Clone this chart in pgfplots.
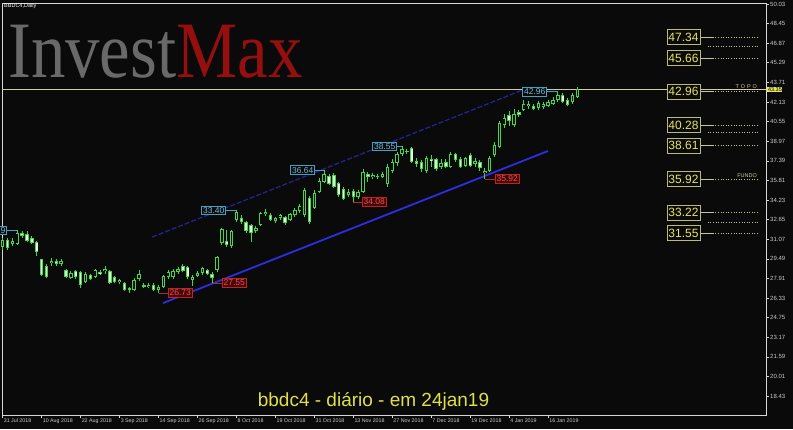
\documentclass[border=0pt]{standalone}
\usepackage{fontspec}
\setmainfont{Liberation Sans}
\newfontfamily\logofont{Liberation Serif}
\usepackage{pgfplots}
\pgfplotsset{compat=1.18}
\usepackage{pgfplotstable}

\definecolor{bg}{RGB}{10,10,10}
\definecolor{candle}{RGB}{70,215,70}
\definecolor{bearfill}{RGB}{225,245,225}
\definecolor{frame}{RGB}{215,215,215}
\definecolor{axtxt}{RGB}{205,205,205}
\definecolor{lvl}{RGB}{230,230,95}
\definecolor{lvlbox}{RGB}{185,185,120}
\definecolor{dots}{RGB}{195,195,165}
\definecolor{topo}{RGB}{205,205,160}
\definecolor{hicol}{RGB}{110,190,220}
\definecolor{hibox}{RGB}{70,160,195}
\definecolor{locol}{RGB}{235,80,80}
\definecolor{lobox}{RGB}{190,35,35}
\definecolor{lofill}{RGB}{70,8,8}
\definecolor{chanlo}{RGB}{45,45,225}
\definecolor{chanhi}{RGB}{35,35,140}
\definecolor{titlecol}{RGB}{225,225,70}
\definecolor{logogray}{RGB}{105,105,105}
\definecolor{logored}{RGB}{150,15,15}

\tikzset{
  hi/.style={draw=hibox, text=hicol, fill=bg, line width=0.7pt, inner sep=1.3pt,
    font=\fontsize{8.5}{9}\selectfont},
  lo/.style={draw=lobox, text=locol, fill=lofill, line width=0.7pt, inner sep=1.3pt,
    font=\fontsize{8.5}{9}\selectfont},
  lvlnode/.style={draw=lvlbox, text=lvl, fill=bg, line width=0.8pt, inner sep=0pt,
    minimum width=33pt, minimum height=15pt, font=\fontsize{12}{12}\selectfont},
}

% BBDC4 daily, bar index 0 = 31 Jul 2018 ... 118 = 24 Jan 2019
\pgfplotstableread{
i o h l c
0 30.45 31.20 30.20 31.00
1 31.00 31.20 30.20 30.40
2 30.70 31.20 30.50 30.95
3 30.70 31.79 30.60 31.55
4 31.60 31.70 31.20 31.30
5 31.50 31.70 30.85 30.95
6 31.20 31.35 30.70 30.80
7 30.85 30.95 29.70 30.00
8 29.45 29.50 28.10 28.20
9 28.95 29.10 27.95 28.05
10 29.15 29.55 28.90 29.35
11 29.30 29.45 28.95 29.05
12 29.05 29.45 28.90 29.30
13 28.55 28.70 27.95 28.05
14 27.95 28.50 27.85 28.35
15 28.50 28.60 27.90 28.00
16 28.40 28.50 27.15 27.40
17 27.60 28.45 27.50 28.30
18 28.20 28.30 27.80 27.90
19 28.00 28.70 27.95 28.55
20 28.45 28.60 28.15 28.25
21 28.50 28.90 28.30 28.70
22 28.50 28.60 27.45 27.55
23 28.00 28.10 27.50 27.60
24 27.60 27.90 27.45 27.80
25 27.50 27.60 26.90 27.00
26 27.10 27.25 26.75 26.95
27 27.00 27.95 26.90 27.80
28 27.85 28.55 27.70 28.30
29 27.35 27.50 27.10 27.20
30 27.20 27.55 27.10 27.40
31 27.35 27.50 26.90 27.00
32 27.00 27.35 26.73 27.25
33 27.20 28.20 27.10 28.10
34 28.00 28.60 27.90 28.45
35 28.00 28.65 27.90 28.50
36 28.40 28.80 28.30 28.70
37 28.90 29.05 28.40 28.50
38 28.80 28.90 27.90 28.00
39 27.75 28.15 27.30 28.05
40 28.10 28.50 28.00 28.35
41 28.35 28.85 28.20 28.75
42 28.60 28.70 28.20 28.30
43 28.30 28.40 27.55 27.95
44 28.60 29.75 28.40 29.60
45 30.80 32.00 30.60 31.90
46 30.95 31.80 30.45 30.60
47 30.50 31.80 30.40 31.70
48 32.60 33.40 32.45 33.25
49 32.80 33.00 32.30 32.45
50 32.45 32.55 31.60 31.70
51 32.20 32.30 30.85 31.55
52 31.70 32.10 31.60 32.00
53 32.20 33.25 32.10 33.15
54 33.10 33.50 32.95 33.30
55 33.00 33.15 32.50 32.60
56 32.50 32.90 32.40 32.75
57 32.80 33.10 32.60 33.00
58 32.85 32.95 32.20 32.35
59 32.60 33.20 32.50 33.10
60 33.00 33.55 32.90 33.40
61 33.35 33.90 33.20 33.75
62 33.00 35.20 32.90 35.00
63 34.40 34.55 32.30 32.45
64 33.60 35.00 33.50 34.80
65 34.90 36.00 34.80 35.80
66 35.70 36.64 35.60 36.30
67 36.20 36.35 35.40 35.55
68 36.25 36.40 35.20 35.30
69 35.60 35.70 34.50 34.60
70 35.10 35.30 34.20 34.30
71 34.60 35.10 34.50 34.90
72 34.95 35.10 34.08 34.45
73 34.50 35.00 34.30 34.85
74 34.90 36.70 34.80 36.50
75 36.30 36.50 35.70 36.05
76 36.05 36.40 35.90 36.25
77 36.20 36.35 35.95 36.10
78 36.10 36.45 36.00 36.30
79 35.50 37.10 35.30 36.90
80 36.60 37.50 36.40 37.30
81 37.20 38.10 37.00 37.90
82 37.90 38.55 37.80 38.35
83 38.20 38.35 37.90 38.10
84 38.40 38.50 37.20 37.30
85 37.40 37.60 36.90 37.10
86 37.30 37.45 36.50 36.70
87 36.60 37.80 36.40 37.60
88 37.55 37.85 36.90 37.35
89 37.50 37.60 36.60 36.70
90 36.90 37.50 36.70 37.20
91 37.30 37.50 36.80 36.90
92 36.90 38.10 36.80 37.90
93 37.90 38.00 37.30 37.45
94 37.50 37.70 36.80 36.90
95 37.00 37.70 36.90 37.60
96 37.85 38.00 36.90 37.00
97 37.10 37.60 36.90 37.40
98 37.30 37.45 36.60 36.80
99 36.40 36.80 35.92 36.60
100 36.60 37.80 36.50 37.60
101 37.85 38.90 37.70 38.70
102 38.50 40.60 38.40 40.40
103 40.30 41.20 40.00 40.80
104 41.05 41.40 40.20 40.60
105 40.30 41.60 40.10 41.20
106 41.30 41.50 40.90 41.10
107 41.50 42.30 41.40 42.00
108 41.80 42.25 41.60 42.00
109 41.80 41.95 41.45 41.60
110 41.65 42.20 41.50 42.05
111 41.70 42.15 41.55 42.00
112 41.80 42.30 41.70 42.10
113 41.97 42.50 41.85 42.30
114 42.30 42.96 42.15 42.70
115 42.70 42.85 42.05 42.15
116 42.30 42.45 41.80 41.90
117 42.10 42.85 41.95 42.70
118 42.55 43.35 42.45 43.15
}\candles

\begin{document}
\begin{tikzpicture}
\useasboundingbox (0,0) rectangle (793pt,429pt);
\fill[bg] (0,0) rectangle (793pt,429pt);

\begin{axis}[
  at={(2pt,14pt)}, anchor=south west,
  scale only axis, width=764pt, height=412pt,
  xmin=-0.14, xmax=156.74, ymin=16.90, ymax=50.11,
  clip=false,
  axis line style={frame, line width=0.8pt},
  tick align=outside, major tick length=3pt,
  tick style={frame, line width=0.6pt},
  ytick pos=right, yticklabel pos=right,
  xtick pos=left, xticklabel pos=left,
  ytick={18.43,20.01,21.59,23.17,24.75,26.33,27.91,29.49,31.07,32.65,34.23,
         35.81,37.39,38.97,40.55,42.13,43.71,45.29,46.87,48.45,50.03},
  yticklabels={18.43,20.01,21.59,23.17,24.75,26.33,27.91,29.49,31.07,32.65,34.23,
         35.81,37.39,38.97,40.55,42.13,43.71,45.29,46.87,48.45,50.03},
  xtick={0,8,...,112},
  xticklabels={31 Jul 2018,10 Aug 2018,22 Aug 2018,3 Sep 2018,14 Sep 2018,
    26 Sep 2018,8 Oct 2018,19 Oct 2018,31 Oct 2018,13 Nov 2018,27 Nov 2018,
    7 Dec 2018,19 Dec 2018,4 Jan 2019,16 Jan 2019},
  yticklabel style={font=\fontsize{6}{7}\selectfont, text=axtxt, inner sep=1pt},
  xticklabel style={font=\fontsize{5.3}{6}\selectfont, text=axtxt, anchor=north west,
    inner sep=0.5pt, xshift=0.5pt},
]

% channel
\addplot[chanhi, line width=1.3pt, dash pattern=on 5pt off 2pt] coordinates {(30.7,31.24) (107.3,43.18)};
\addplot[chanlo, line width=1.8pt] coordinates {(32.9,25.92) (111.97,38.18)};

% topo / bid line
\addplot[topo, line width=0.8pt] coordinates {(-0.14,43.15) (156.74,43.15)};

% wicks
\addplot[draw=none, forget plot, error bars/.cd, y dir=plus, y explicit, error mark=none,
  error bar style={draw=candle, line width=0.9pt}]
  table[x=i, y=l, y error expr=\thisrow{h}-\thisrow{l}] {\candles};
% bodies
\addplot[draw=none, forget plot, error bars/.cd, y dir=plus, y explicit, error mark=none,
  error bar style={draw=candle, line width=3.4pt}]
  table[x=i, y expr={min(\thisrow{o},\thisrow{c})},
        y error expr={max(abs(\thisrow{c}-\thisrow{o}),0.08)}] {\candles};
% bull bodies hollow
\addplot[draw=none, forget plot, error bars/.cd, y dir=plus, y explicit, error mark=none,
  error bar style={draw=bg, line width=1.6pt}]
  table[x=i, y expr=\thisrow{o}+0.08,
        y error expr={max(\thisrow{c}-\thisrow{o}-0.16,0)}] {\candles};
% bear bodies filled
\addplot[draw=none, forget plot, error bars/.cd, y dir=plus, y explicit, error mark=none,
  error bar style={draw=bearfill, line width=1.6pt}]
  table[x=i, y expr=\thisrow{c}+0.08,
        y error expr={max(\thisrow{o}-\thisrow{c}-0.16,0)}] {\candles};

% swing highs
\draw[hibox, line width=0.7pt] (axis cs:0.88,31.79) -- (axis cs:3,31.79);
\node[hi, anchor=east] at (axis cs:0.88,31.79) {31.79};
\draw[hibox, line width=0.7pt] (axis cs:45.85,33.40) -- (axis cs:48,33.40);
\node[hi, anchor=east] at (axis cs:45.85,33.40) {33.40};
\draw[hibox, line width=0.7pt] (axis cs:64.13,36.64) -- (axis cs:66,36.64);
\node[hi, anchor=east] at (axis cs:64.13,36.64) {36.64};
\draw[hibox, line width=0.7pt] (axis cs:80.96,38.55) -- (axis cs:82,38.55);
\node[hi, anchor=east] at (axis cs:80.96,38.55) {38.55};
\draw[hibox, line width=0.7pt] (axis cs:111.77,42.96) -- (axis cs:114,42.96);
\node[hi, anchor=east] at (axis cs:111.77,42.96) {42.96};
% swing lows
\draw[lobox, line width=0.7pt] (axis cs:32,26.73) -- (axis cs:33.94,26.73);
\node[lo, anchor=west] at (axis cs:33.94,26.73) {26.73};
\draw[lobox, line width=0.7pt] (axis cs:43,27.55) -- (axis cs:45.03,27.55);
\node[lo, anchor=west] at (axis cs:45.03,27.55) {27.55};
\draw[lobox, line width=0.7pt] (axis cs:72,34.08) -- (axis cs:73.78,34.08);
\node[lo, anchor=west] at (axis cs:73.78,34.08) {34.08};
\draw[lobox, line width=0.7pt] (axis cs:99,35.92) -- (axis cs:101.09,35.92);
\node[lo, anchor=west] at (axis cs:101.09,35.92) {35.92};

% levels on the right
\pgfplotsinvokeforeach{47.34,45.66,42.96,40.28,38.61,35.92,33.22,31.55}{
  \draw[dots, line width=0.8pt] (axis cs:143.2,#1) -- (axis cs:145.8,#1);
  \draw[dots, line width=0.8pt, dash pattern=on 1pt off 1.6pt] (axis cs:145.8,#1) -- (axis cs:155.1,#1);
  \node[lvlnode] at (axis cs:139.8,#1) {#1};
}
\pgfplotsinvokeforeach{46.59,39.71,32.45}{
  \draw[dots, line width=0.8pt, dash pattern=on 1pt off 1.6pt] (axis cs:144.8,#1) -- (axis cs:155.1,#1);
}
\node[anchor=south east, text=topo, inner sep=0.5pt, font=\fontsize{5.5}{6}\selectfont]
  at (axis cs:155.0,43.15) {T\,\,O\,\,P\,\,O};
\node[anchor=south east, text=topo, inner sep=0.5pt, font=\fontsize{5.5}{6}\selectfont]
  at (axis cs:155.0,35.97) {FUNDO};
\node[anchor=west, fill=lvl, text=black, inner sep=0.6pt, font=\fontsize{5.5}{6}\selectfont]
  at (axis cs:157.0,43.15) {43.35};
\end{axis}

\begin{scope}[x=1pt, y=-1pt, shift={(0pt,429pt)}]
  \node[anchor=north west, text=white, inner sep=0pt, font=\fontsize{5.5}{6}\selectfont]
    at (4,3) {BBDC4,Daily};
  \node[anchor=base west, inner sep=0pt, xscale=0.86, font=\logofont\fontsize{80}{80}\selectfont]
    at (8,78) {\textcolor{logogray}{Invest}\textcolor{logored}{Max}};
  \node[text=titlecol, inner sep=0pt, font=\fontsize{19}{20}\selectfont]
    at (373.5,401) {bbdc4 - diário - em 24jan19};
\end{scope}
\end{tikzpicture}
\end{document}
